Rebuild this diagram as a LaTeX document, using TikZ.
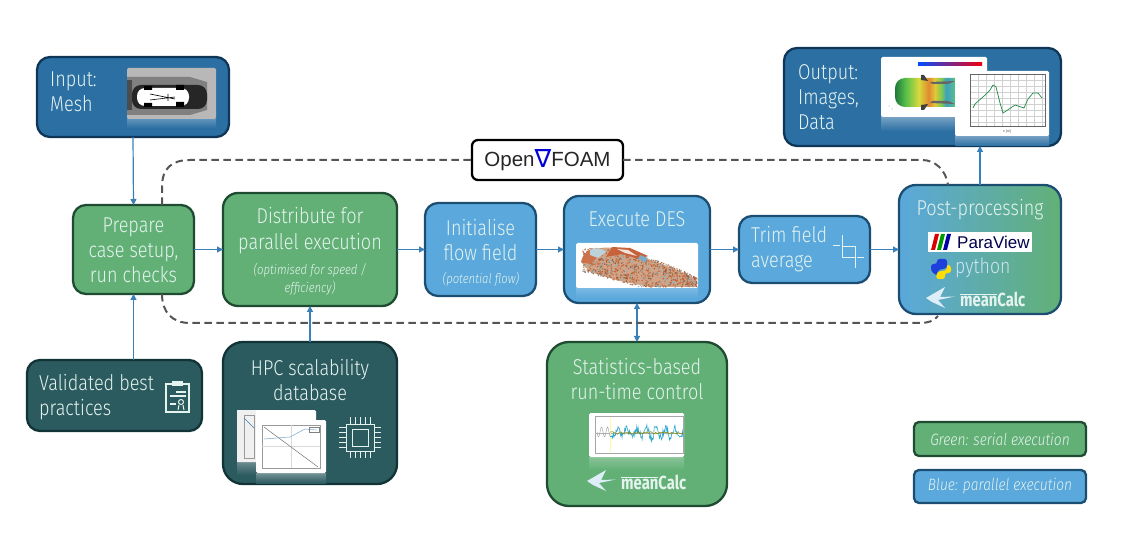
\documentclass[tikz,border=0pt]{standalone}
\usepackage{fontspec}
\usetikzlibrary{arrows.meta,calc,shapes.geometric}
\newfontfamily\fn[FakeStretch=0.84]{Fira Sans Light}
\newfontfamily\fni[FakeStretch=0.84]{Fira Sans Light Italic}
\newfontfamily\fnb[FakeStretch=0.78]{Fira Sans}
\newfontfamily\lib{Liberation Sans}
\newfontfamily\dv{DejaVu Sans}
\definecolor{cgreen}{HTML}{62B076}
\definecolor{cgreenb}{HTML}{1F4B33}
\definecolor{cblue}{HTML}{5AA8DC}
\definecolor{cblueb}{HTML}{1C4E72}
\definecolor{cdeep}{HTML}{2C6FA3}
\definecolor{cdeepb}{HTML}{0F3557}
\definecolor{cteal}{HTML}{2B5A5F}
\definecolor{ctealb}{HTML}{123436}
\definecolor{cline}{HTML}{3A80B8}
\definecolor{cdash}{HTML}{555555}
\definecolor{ctxt}{HTML}{E4F3EE}
\definecolor{dbrown}{HTML}{B9764F}
\definecolor{dtan}{HTML}{D2A384}
\definecolor{dred}{HTML}{C8623A}
\definecolor{dblue}{HTML}{8FB5C4}
\definecolor{sa}{HTML}{1E7A3C}
\definecolor{sb}{HTML}{5CC24A}
\definecolor{sc}{HTML}{D8D93C}
\definecolor{sd}{HTML}{E08A2E}
\definecolor{se}{HTML}{E2C83A}
\definecolor{sf}{HTML}{7CCB4E}
\definecolor{sg}{HTML}{3F9FC0}
\definecolor{sh}{HTML}{55BE8C}
\definecolor{si}{HTML}{86CF50}
\definecolor{sj}{HTML}{3FA85A}
\pgfdeclarehorizontalshading{carshade}{100bp}{
  color(0bp)=(sa); color(25bp)=(sa); color(32bp)=(sb); color(40bp)=(sc);
  color(46bp)=(sd); color(50bp)=(se); color(54bp)=(sf);
  color(57bp)=(sg); color(62bp)=(sh); color(68bp)=(si); color(75bp)=(sj); color(100bp)=(sj)}
\tikzset{
  bx/.style={draw,line width=2.3pt,rounded corners=#1,inner sep=0pt,outer sep=0pt,text=ctxt},
  bx/.default=13pt,
  green box/.style={bx,fill=cgreen,draw=cgreenb},
  blue box/.style={bx,fill=cblue,draw=cblueb},
  deep box/.style={bx,fill=cdeep,draw=cdeepb},
  teal box/.style={bx,fill=cteal,draw=ctealb},
  big/.style={font=\fn\fontsize{21.5}{25}\selectfont,align=center,text=ctxt,inner sep=0pt},
  bigl/.style={big,align=left,anchor=west},
  small/.style={font=\fni\fontsize{13.5}{18}\selectfont,align=center,text=ctxt,inner sep=0pt},
  legend text/.style={font=\fni\fontsize{16.4}{18}\selectfont},
  flow/.style={draw=cline,line width=1.2pt,-{Triangle[length=6pt,width=6pt]}},
  flowb/.style={draw=cline,line width=1.2pt,{Triangle[length=6pt,width=6pt]}-{Triangle[length=6pt,width=6pt]}},
  loopline/.style={draw=cdash,line width=2pt,dash pattern=on 7.5pt off 4.5pt},
  pic/.style={fill=white,rounded corners=1.5pt},
  icon/.style={draw=ctxt,line width=1.2pt},
}
\newcommand{\bxn}[7]{\node[#6,minimum width={(#4-#2)*1pt},minimum height={(#5-#3)*1pt}] (#1) at ({(#2+#4)/2},{(#3+#5)/2}) {#7};}
\newcommand{\mcalc}[3]{% x y name
  \fill[white!80!cblue] (#1,#2) -- (#1+19,#2-11) -- (#1+14,#2-1) -- (#1+29,#2-1.5) -- (#1+12,#2+2) -- (#1+19,#2+10) -- (#1+6,#2+4) -- cycle;
  \node[inner sep=0pt,anchor=west,text=ctxt,font=\fnb\bfseries\fontsize{19}{19}\selectfont] (#3) at (#1+34,#2+1) {$\overline{\hbox{\fnb\bfseries\fontsize{19}{19}\selectfont mean}}$Calc};}
\begin{document}
\begin{tikzpicture}[x=1pt,y=-1pt]
\useasboundingbox (0,0) rectangle (1121,534);
% main boxes
\bxn{input}{37}{57}{229}{137}{deep box}{}
\bxn{output}{784}{48}{1061}{146}{deep box}{}
\bxn{prep}{73}{205}{194}{294}{green box}{}
\bxn{dist}{223}{193}{397}{306}{green box,bx=15pt}{}
\bxn{init}{425}{203}{536}{296}{blue box}{}
\bxn{exec}{564}{196}{710}{303}{blue box,bx=15pt}{}
\bxn{trim}{739}{216}{870}{283}{blue box}{}
\bxn{post}{899}{185}{1061}{314}{bx=17pt,draw=cblueb,left color=cblue,middle color=cblue!60!cgreen,right color=cgreen}{}
\bxn{valid}{27}{360}{202}{431}{teal box}{}
\bxn{hpc}{223}{342}{397}{484}{teal box,bx=20pt}{}
\bxn{stats}{547}{342}{727}{506}{green box,bx=22pt}{}
\bxn{legg}{914}{422}{1086}{456}{green box,bx=5pt,legend text}{Green: serial execution}
\bxn{legb}{914}{470}{1086}{503}{blue box,bx=5pt,legend text}{Blue: parallel execution}
\bxn{foam}{472}{140}{623}{180}{bx=6pt,draw=black,fill=white,text=black!85,font=\lib\fontsize{20.5}{22}\selectfont}{Open\raisebox{-0.5pt}{\textcolor{blue!85!black}{\dv\fontsize{25}{25}\selectfont ∇}}FOAM}
% texts
\node[bigl] (tinput) at (50,92) {Input:\\Mesh};
\node[bigl] (toutput) at (798,97) {Output:\\Images,\\Data};
\node[big] (tprep) at (133.5,250) {Prepare\\case setup,\\run checks};
\node[big,font=\fn\fontsize{21.5}{26}\selectfont] (tdist) at (310,231) {Distribute for\\parallel execution};
\node[small] (sdist) at (310,279) {(optimised for speed /\\efficiency)};
\node[big] (tinit) at (480.5,240) {Initialise\\flow field};
\node[small] (sinit) at (481,279) {(potential flow)};
\node[big] (texec) at (637,219) {Execute DES};
\node[bigl] (ttrim) at (751,249.5) {Trim field\\average};
\node[big] (tpost) at (980,210) {Post-processing};
\node[bigl] (tvalid) at (39,397) {Validated best\\practices};
\node[big] (thpc) at (310,380.5) {HPC scalability\\database};
\node[big] (tstats) at (637,379.5) {Statistics-based\\run-time control};
% mesh thumbnail
\shade[top color=cdeep!75!white,bottom color=cdeep] (127,119) rectangle (216,128);
\fill[black!28,rounded corners=1.5pt] (127,68) rectangle (216,119);
\fill[black!50] (127,77) -- (190,77) -- (207,82) -- (207,110) -- (190,115) -- (127,115) -- cycle;
\fill[black!70] (127,80) rectangle (132,110);
\fill[black!85,rounded corners=9pt] (132,85) rectangle (207,109);
\fill[white,rounded corners=8pt] (137,88) rectangle (189,106);
\fill[black] (144,86) rectangle (152,90) (176,85) rectangle (184,90) (144,103) rectangle (152,107) (176,102) rectangle (184,107);
\draw[black,line width=.6pt] (150,94) -- (175,99) (150,100) -- (175,97) (168,94) -- (168,101);
% DES image
\shade[top color=cblue!80!white,bottom color=cblue] (576,288) rectangle (698,298);
\fill[pic] (576,243) rectangle (698,288);
\fill[dtan] (581,262) .. controls (584,250) and (600,246) .. (615,248) -- (640,256) -- (665,265) -- (696,279) -- (697,287) -- (650,287) -- (620,281) -- (590,272) -- cycle;
\pgfmathsetseed{7}
\foreach \i in {1,...,1100}{
  \pgfmathsetmacro{\tval}{rnd}
  \pgfmathsetmacro{\xx}{583+114*\tval}
  \pgfmathsetmacro{\yup}{248+30*\tval*\tval}
  \pgfmathsetmacro{\ylo}{272+15*min(1,\tval*2)}
  \pgfmathsetmacro{\yy}{\yup+rnd*(\ylo-\yup)}
  \pgfmathtruncatemacro{\cc}{int(rnd*5)}
  \ifcase\cc\relax\def\dc{dbrown}\or\def\dc{dred}\or\def\dc{dtan}\or\def\dc{dblue}\else\def\dc{dbrown!80!black}\fi
  \fill[\dc] (\xx,\yy) circle (.8pt);
}
\fill[dred!90!white] (581,262) .. controls (584,250) and (592,247) .. (602,249) -- (598,257) -- (590,264) -- cycle;
\fill[dblue!60!white] (590,250) .. controls (596,247) and (602,248) .. (606,252) -- (598,258) -- (590,255) -- cycle;
\fill[dred] (612,247) -- (630,248) -- (648,256) -- (640,259) -- (622,254) -- (606,257) -- cycle;
\fill[white!70!dtan] (617,249) -- (628,250) -- (637,256) -- (625,253) -- cycle;
\fill[dblue!80!cline] (640,255) -- (648,258) -- (645,262) -- (638,259) -- cycle;
% output images
\shade[top color=cdeep!65!white,bottom color=cdeep] (881,117) rectangle (987,131);
\fill[pic] (881,57) rectangle (987,117);
\shade[left color=blue!70!cyan,middle color=yellow!80!green,right color=red!80!purple] (918,63) rectangle (982,65.5);
\begin{scope}
\clip[rounded corners=10pt] (895,78) rectangle (975,107);
\shade[shading=carshade] (895,78) rectangle (975,107);
\end{scope}
\fill[black!75] (921,75) -- (924,75) -- (928,81) -- (921,80) -- cycle (921,110) -- (924,110) -- (928,104) -- (921,105) -- cycle;
\fill[black!60] (930,82) -- (955,81) -- (948,84) -- (932,84) -- cycle (930,103) -- (955,104) -- (948,101) -- (932,101) -- cycle;
\fill[black!50] (889,106) circle (.5pt) (892,109) circle (.5pt);
\shade[top color=cdeep!65!white,bottom color=cdeep] (955,136) rectangle (1049,146);
\fill[pic] (955,71) rectangle (1049,136);
\foreach \g in {978,986,...,1042} \draw[black!18,line width=.3pt] (\g,74) -- (\g,126);
\foreach \g in {80,86,...,124} \draw[black!18,line width=.3pt] (970,\g) -- (1045,\g);
\draw[black!60,line width=.4pt] (970,74) rectangle (1045,126);
\draw[cteal!70!green,line width=.7pt] (973,108) -- (975,104) -- (984,96) -- (990,90) -- (993,85) -- (996,87) -- (1000,103) -- (1003,113) -- (1009,109) -- (1015,105) -- (1024,108) -- (1028,99) -- (1033,93) -- (1038,93) -- (1042,98);
\node[inner sep=0pt,font=\lib\fontsize{3.5}{4}\selectfont,text=black!70] (xlabel) at (1007,132) {x [m]};
% ParaView
\fill[white] (928,232) rectangle (1032,252);
\fill[red!85!black] (931,250) -- (935,234) -- (939,234) -- (935,250) -- cycle;
\fill[green!60!black] (937,250) -- (941,234) -- (945,234) -- (941,250) -- cycle;
\fill[blue!65!black] (943,250) -- (947,234) -- (951,234) -- (947,250) -- cycle;
\node[inner sep=0pt,anchor=west,text=blue!30!black,font=\lib\fontsize{17}{17}\selectfont] (tpara) at (957,242) {ParaView};
% python
\fill[blue!50!cline,rounded corners=2.5pt] (931,271) -- (931,264) -- (937,264) -- (937,259) -- (947,259) -- (947,268) -- (938,270) -- (937,276) -- cycle;
\fill[yellow!80!orange,rounded corners=2.5pt] (951,266) -- (951,273) -- (945,273) -- (945,279) -- (936,279) -- (937,272) -- (947,270) -- (947,264) -- cycle;
\node[inner sep=0pt,anchor=west,text=white!70!cblue,font=\fn\fontsize{21}{21}\selectfont] (tpy) at (955,268) {python};
\mcalc{926}{298}{tmc}
% stats chart
\shade[top color=cgreen!75!white,bottom color=cgreen] (589,457) rectangle (684,470);
\fill[pic] (589,413) rectangle (684,457);
\draw[black!35,line width=.4pt] (595,416) rectangle (683,453);
\draw[black!30,line width=.3pt] (595,433) -- (683,433);
\fill[yellow!35] (610,418) rectangle (611,452);
\pgfmathsetseed{11}
\draw[black!40,line width=.4pt] plot[domain=0:13,samples=16] ({597+\x},{432+5*sin(\x*60)});
\draw[cline!70!cyan,line width=.6pt] plot[domain=0:73,samples=110] ({610+\x},{433+4*sin(\x*37)+(rnd-.5)*9});
\draw[olive,line width=.5pt] plot[domain=0:73,samples=60] ({610+\x},{433+(rnd-.5)*3});
\mcalc{587}{481}{tmc2}
% HPC charts
\shade[top color=cteal!70!white,bottom color=cteal] (237,462) rectangle (256,475);
\fill[pic] (237,410) rectangle (316,462);
\shade[top color=cteal!65!white,bottom color=cteal] (256,473) rectangle (326,483);
\fill[black!6] (237,410) rectangle (256,462);
\draw[black!40,line width=.4pt] (244,415) rectangle (254,458);
\draw[cline,line width=.4pt] (244,418) -- (254,428);
\fill[pic] (256,420) rectangle (326,473);
\draw[black!40,line width=.4pt] (262,425) rectangle (320,468);
\draw[black!15,line width=.3pt] (262,446) -- (320,446) (291,425) -- (291,468);
\draw[black!55,line width=.5pt] (264,427) -- (318,467);
\draw[cline!70!white,line width=.5pt] (264,439) -- (290,437) -- (305,429) -- (317,430);
\draw[black!50,line width=.4pt] (309,427) rectangle (319,432);
% chip
\draw[icon,line width=.9pt] (346,424) rectangle (374,451);
\draw[icon,line width=.9pt] (352,429) rectangle (368,446);
\foreach \k in {0,1,2,3,4}{
  \draw[icon,line width=.7pt] ({350+5*\k},424) -- ({350+5*\k},417);
  \draw[icon,line width=.7pt] ({350+5*\k},451) -- ({350+5*\k},458);
  \draw[icon,line width=.7pt] (346,{427.5+5*\k}) -- (339,{427.5+5*\k});
  \draw[icon,line width=.7pt] (374,{427.5+5*\k}) -- (381,{427.5+5*\k});
}
% clipboard
\draw[icon,line width=1.4pt] (166,384) rectangle (189,412);
\fill[ctxt] (172,381) rectangle (183,386);
\draw[icon] (176,392) -- (186,392) (170,396) -- (186,396) (170,404) -- (176,404);
\draw[icon,line width=1pt] (181,402) circle (2.5pt) (179,405) -- (178,410) (183,405) -- (184,410);
% step icon
\draw[icon,line width=.8pt] (833,245) -- (840,245) (842,235) -- (842,257) -- (855,257) (855,246) -- (855,268) (857,257) -- (864,257) (842,246) -- (855,246);
% connectors
\draw[flow] (input.south) -- (prep.north);
\draw[flow] (prep.south |- valid.north) -- (prep.south);
\draw[flow] (hpc.north) -- (dist.south);
\draw[flow] (prep.east) -- (dist.west);
\draw[flow] (dist.east) -- (init.west);
\draw[flow] (init.east) -- (exec.west);
\draw[flow] (exec.east) -- (trim.west);
\draw[flow] (trim.east) -- (post.west);
\draw[flowb] (stats.north) -- (exec.south);
\draw[flow] (post.north) -- (post.north |- output.south);
% dashed loop
\coordinate (la) at (162,205);
\coordinate (lb) at (948,185);
\coordinate (lc) at (162,294);
\coordinate (ld) at (938,316);
\draw[loopline] (la) -- (162,187) .. controls (162,168) and (172,160) .. (190,160) -- (foam.west);
\draw[loopline] (foam.east) -- (922,160) .. controls (935,160) and (946,170) .. (lb);
\draw[loopline] (lc) .. controls (162,312) and (172,323) .. (190,323) -- (920,323) .. controls (928,323) and (934,321) .. (ld);
\end{tikzpicture}
\end{document}
